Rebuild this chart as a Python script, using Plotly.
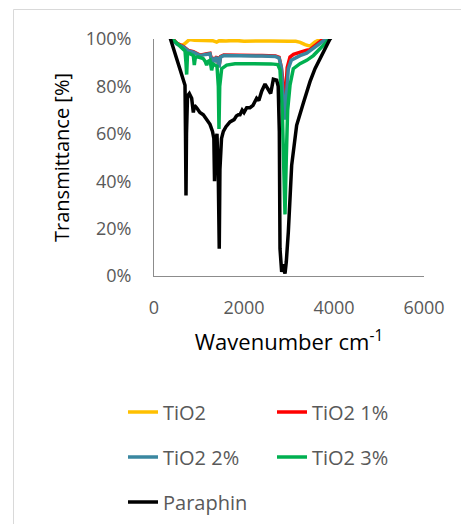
import plotly.graph_objects as go

# ---------------- data ----------------
series_names = ["TiO2", "TiO2 1%", "TiO2 2%", "TiO2 3%", "Paraphin"]
series_colors = ["#FFC000", "#FF0000", "#3A87A0", "#00B050", "#000000"]

wn_tio2 = [350, 467, 540, 615, 680, 726, 790, 900, 1100, 1300, 1393, 1450, 1600, 1800, 2000,
           2200, 2400, 2600, 2800, 2900, 3000, 3150, 3250, 3356, 3467, 3578, 3650, 3750, 4000]
t_tio2 = [101, 98.7, 97.8, 97.3, 98, 98.7, 99.8, 99.5, 99.4, 99.3, 98.7, 99.3, 99.2, 99.4, 99.1,
          99.3, 99.2, 99.2, 99.0, 98.8, 99.0, 99.0, 98.6, 97.6, 97.0, 98.7, 99.5, 100.5, 102]

wn_tio2_1 = [350, 500, 652, 763, 874, 1022, 1150, 1244, 1290, 1320, 1356, 1400, 1444, 1480, 1550,
             1800, 2100, 2400, 2700, 2780, 2830, 2860, 2890, 2930, 2960, 3022, 3100, 3250, 3393,
             3467, 3600, 3760, 4000]
t_tio2_1 = [101.5, 98.3, 96.8, 95.2, 94.7, 93.2, 93.7, 94, 90.5, 92.2, 91.3, 92.6, 88.5, 92.6, 93.2,
            93.2, 93.0, 93.0, 92.8, 92.3, 88, 83, 72, 78, 88, 92.4, 93.5, 94.5, 95.3,
            95.5, 97.5, 100, 102]

wn_tio2_2 = [350, 500, 652, 763, 874, 1022, 1150, 1244, 1290, 1320, 1356, 1400, 1444, 1480, 1550,
             1800, 2100, 2400, 2700, 2780, 2830, 2870, 2900, 2930, 2960, 2985, 3050, 3244, 3393,
             3541, 3700, 3820, 4000]
t_tio2_2 = [101, 98, 96.6, 95, 94.5, 93, 93.5, 93.8, 90, 92, 91, 92.4, 88, 92.4, 93,
            93, 92.8, 92.8, 92.6, 92, 88, 75, 66, 72, 83, 87.5, 91, 93, 94,
            96, 98.5, 100, 102]

wn_tio2_3 = [350, 475, 578, 689, 710, 726, 745, 800, 874, 896, 920, 985, 1096, 1140, 1170, 1200,
             1244, 1281, 1310, 1356, 1400, 1430, 1444, 1460, 1504, 1615, 1800, 2000, 2200, 2400,
             2600, 2750, 2800, 2850, 2880, 2911, 2940, 2970, 3022, 3096, 3244, 3393, 3541, 3689,
             3874, 4000]
t_tio2_3 = [101, 98.7, 96.6, 95, 90, 85, 94, 93.8, 93, 89, 92.5, 92.4, 91.7, 90.5, 89, 90.5,
            91, 86.8, 89.5, 89, 88.5, 80, 62, 80, 87.5, 89, 89.6, 89.6, 89.6, 89.4,
            89.5, 89.2, 87, 70, 40, 26, 50, 70, 80.5, 87.5, 89.6, 91, 93, 96,
            100, 102]

wn_paraphin = [350, 450, 550, 615, 689, 700, 711, 722, 745, 785, 837, 874, 900, 948, 1020, 1096,
               1170, 1244, 1300, 1330, 1345, 1360, 1400, 1430, 1450, 1465, 1500, 1541, 1600, 1650,
               1689, 1780, 1830, 1874, 1911, 1960, 2000, 2060, 2133, 2200, 2281, 2330, 2393, 2467,
               2541, 2593, 2652, 2726, 2760, 2785, 2800, 2820, 2837, 2860, 2880, 2896, 2911, 2940,
               2985, 3059, 3170, 3319, 3467, 3578, 3689, 3800, 3911, 4000]
t_paraphin = [101, 95, 90, 86, 80.5, 60, 34, 60, 76, 77, 75, 69, 72, 71, 69, 68,
              66, 64, 61, 58, 40, 55, 60, 40, 11.5, 45, 58, 61, 63, 64,
              65, 66, 67.5, 68, 68, 70, 69, 71, 71, 72, 75, 74, 78, 81,
              79, 77, 83, 82.6, 80, 61, 11.5, 3, 1.7, 5, 3, 1, 1, 6,
              18.5, 46.7, 63.6, 73, 82, 87.5, 91.7, 96.6, 100, 102]

xs = [wn_tio2, wn_tio2_1, wn_tio2_2, wn_tio2_3, wn_paraphin]
ys = [t_tio2, t_tio2_1, t_tio2_2, t_tio2_3, t_paraphin]

x_ticks = [0, 2000, 4000, 6000]
y_ticks = [0, 20, 40, 60, 80, 100]

# ---------------- figure ----------------
# The page body has an 8px default margin; the figure is sized so that it
# fits inside the 469x532 window without scrolling.
OFF = 8
W, H = 469 - 2 * OFF, 532 - 2 * OFF
PL, PR, PT, PB = 154, 424, 39, 276          # plot area in page pixels
ML, MT = PL - OFF, PT - OFF
MR, MB = (OFF + W) - PR, (OFF + H) - PB
PW, PH = PR - PL, PB - PT

def px_x(p):
    return (p - PL) / PW

def px_y(p):
    return (PB - p) / PH

legend_keys = ["legend", "legend", "legend2", "legend2", "legend3"]

fig = go.Figure()
for name, color, x, y, lg in zip(series_names, series_colors, xs, ys, legend_keys):
    fig.add_trace(go.Scatter(
        x=x, y=y, mode="lines", name=name,
        line=dict(color=color, width=3.5),
        legend=lg,
    ))

font_family = "Open Sans"
leg_common = dict(
    orientation="h", xanchor="left", yanchor="middle",
    entrywidth=104, entrywidthmode="pixels",
    font=dict(family=font_family, size=20, color="#595959"),
    bgcolor="rgba(0,0,0,0)", borderwidth=0,
    itemclick=False, itemdoubleclick=False,
)
row_px = [412, 457, 502]
leg_x = px_x(123)

fig.update_layout(
    width=W, height=H,
    margin=dict(l=ML, r=MR, t=MT, b=MB, pad=0, autoexpand=False),
    paper_bgcolor="white", plot_bgcolor="white",
    font=dict(family=font_family, color="#595959"),
    showlegend=True,
    legend=dict(x=leg_x, y=px_y(row_px[0]), **leg_common),
    legend2=dict(x=leg_x, y=px_y(row_px[1]), **leg_common),
    legend3=dict(x=leg_x, y=px_y(row_px[2]), **leg_common),
    xaxis=dict(
        range=[0, 6000], tickvals=x_ticks, ticktext=[str(v) for v in x_ticks],
        showgrid=False, zeroline=False, showline=True, linecolor="#8c8c8c", linewidth=1,
        ticks="outside", ticklen=15, tickcolor="rgba(0,0,0,0)",
        tickfont=dict(family=font_family, size=18, color="#595959"),
        title=dict(text="Wavenumber cm<sup>-1</sup>", standoff=17,
                   font=dict(family=font_family, size=22, color="#000000")),
        automargin=False, fixedrange=True,
    ),
    yaxis=dict(
        range=[0, 100], tickvals=y_ticks, ticktext=[f"{v}%" for v in y_ticks],
        showgrid=False, zeroline=False, showline=True, linecolor="#8c8c8c", linewidth=1,
        ticks="outside", ticklen=18, tickcolor="rgba(0,0,0,0)",
        tickfont=dict(family=font_family, size=18, color="#595959"),
        title=dict(text="Transmittance [%]", standoff=10,
                   font=dict(family=font_family, size=20, color="#000000")),
        automargin=False, fixedrange=True,
    ),
    shapes=[dict(
        type="rect", xref="paper", yref="paper",
        x0=px_x(13.5), x1=px_x(520), y0=px_y(600), y1=px_y(9.5),
        line=dict(color="#d9d9d9", width=1), fillcolor="rgba(0,0,0,0)", layer="below",
    )],
)

fig.write_html("out.html", config={"displayModeBar": False})
